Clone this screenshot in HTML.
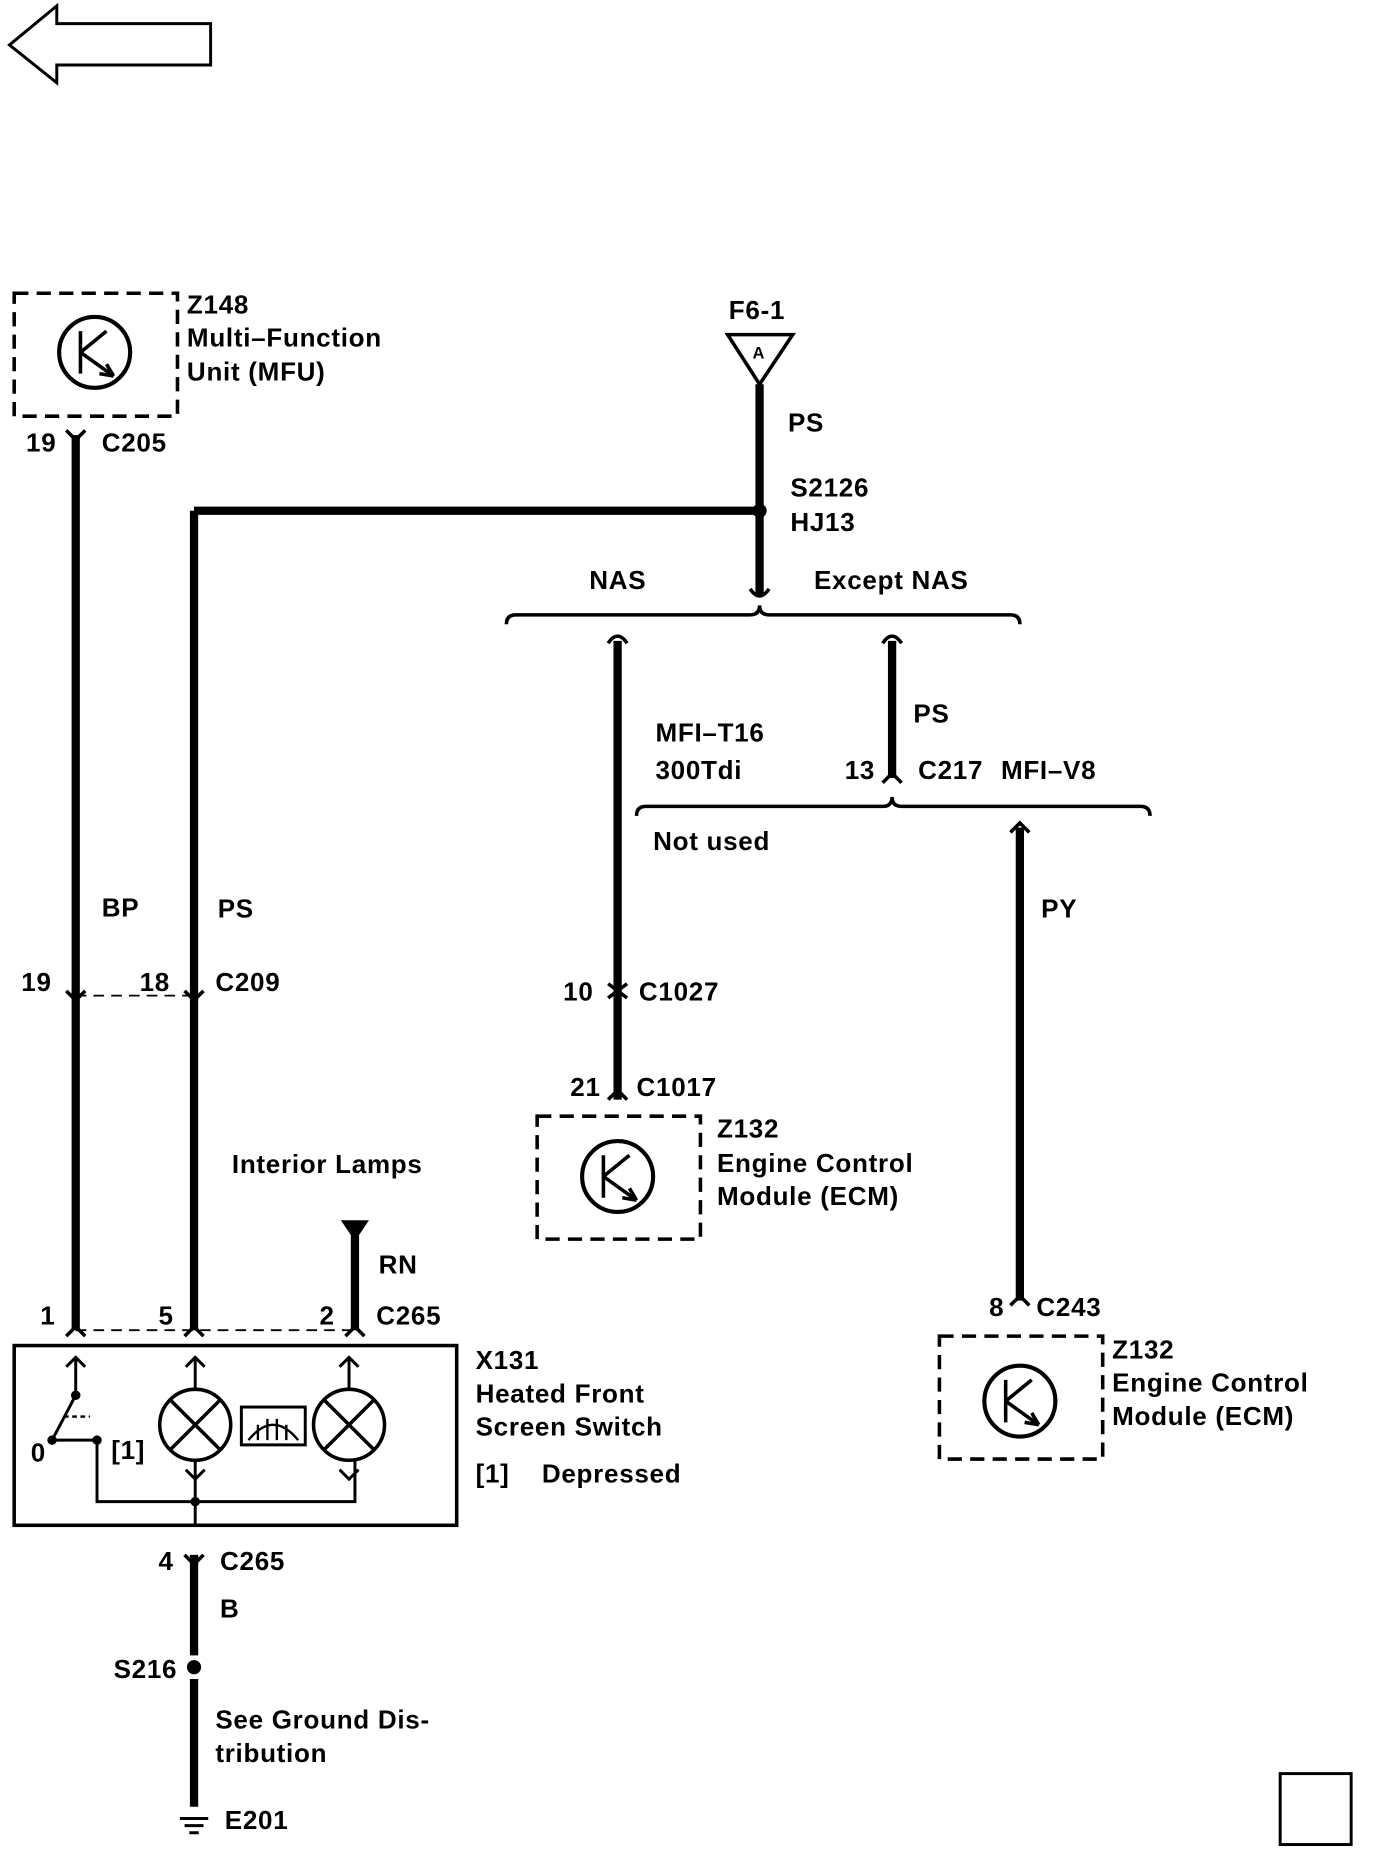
<!DOCTYPE html>
<html><head><meta charset="utf-8"><style>
html,body{margin:0;padding:0;background:#fff;}
svg{display:block}
text{font-family:"Liberation Sans",sans-serif;font-weight:bold;font-size:22px;letter-spacing:0.6px;fill:#000}
</style></head><body>
<svg width="1376" height="1854" viewBox="0 0 1163 1568" preserveAspectRatio="none" xmlns="http://www.w3.org/2000/svg">
<g fill="none" stroke="#000">
<polygon points="8,38 48,5 48,20 178,20 178,55 48,55 48,70" stroke-width="2.5"/>
<rect x="12" y="248" width="138" height="104" stroke-width="3" stroke-dasharray="12,7"/>
<circle cx="80" cy="298" r="30" stroke-width="3.5"/>
<path d="M68 280 V316 M68 298 L96 318 M68 298 L90 280" stroke-width="3"/>
<path d="M96 318 L84 316 M96 318 L90 308" stroke-width="3"/>
<path d="M64 368 V1125" stroke-width="7"/>
<path d="M164 432 V1125 M164 432 H642" stroke-width="7"/>
<path d="M642 325 V503" stroke-width="7"/>
<path d="M522 542 V930" stroke-width="7"/>
<path d="M754 542 V658" stroke-width="7"/>
<path d="M862 700 V1100" stroke-width="7"/>
<path d="M300 1045 V1125" stroke-width="7"/>
<path d="M164 1315 V1400 M164 1420 V1528" stroke-width="7"/>
<path d="M56 364 L64 372 L72 364 M634 498 Q642 510 650 498 M514 544 Q522 532 530 544 M746 544 Q754 532 762 544 M746 662 L754 654 L762 662 M854 704 L862 696 L870 704 M156 1315 L164 1323 L172 1315 M514 930 L522 922 L530 930 M854 1104 L862 1096 L870 1104" stroke-width="3"/>
<path d="M56 838 L64 846 L72 838 M156 838 L164 846 L172 838 M514 832 L530 844 M514 844 L530 832" stroke-width="3"/>
<path d="M56 1130 L64 1122 L72 1130 M156 1130 L164 1122 L172 1130 M292 1130 L300 1122 L308 1130" stroke-width="3"/>
<path d="M64 842 H164 M64 1125 H300" stroke-width="1.5" stroke-dasharray="9,6"/>
<polygon points="615,283 670,283 642,325" stroke-width="3"/>
<polygon points="290,1033 310,1033 300,1048" fill="#000" stroke-width="2"/>
<path d="M428 528 Q428 520 436 520 H634 Q642 520 642 512 Q642 520 650 520 H854 Q862 520 862 528" stroke-width="3"/>
<path d="M538 690 Q538 682 546 682 H746 Q754 682 754 674 Q754 682 762 682 H964 Q972 682 972 690" stroke-width="3"/>
<rect x="454" y="944" width="138" height="104" stroke-width="3" stroke-dasharray="12,7"/>
<circle cx="522" cy="995" r="30" stroke-width="3.5"/>
<path d="M510 977 V1013 M510 995 L538 1015 M510 995 L532 977 M538 1015 L526 1013 M538 1015 L532 1005" stroke-width="3"/>
<rect x="794" y="1130" width="138" height="104" stroke-width="3" stroke-dasharray="12,7"/>
<circle cx="862" cy="1185" r="30" stroke-width="3.5"/>
<path d="M850 1167 V1203 M850 1185 L878 1205 M850 1185 L872 1167 M878 1205 L866 1203 M878 1205 L872 1195" stroke-width="3"/>
<rect x="12" y="1138" width="374" height="152" stroke-width="3"/>
<circle cx="165" cy="1205" r="30" stroke-width="3"/>
<path d="M144 1184 L186 1226 M186 1184 L144 1226" stroke-width="3"/>
<circle cx="295" cy="1205" r="30" stroke-width="3"/>
<path d="M274 1184 L316 1226 M316 1184 L274 1226" stroke-width="3"/>
<rect x="204" y="1190" width="54" height="32" stroke-width="2.5"/>
<path d="M210 1218 Q231 1192 252 1218 M218 1205 V1218 M226 1200 V1218 M234 1200 V1218 M242 1205 V1218" stroke-width="2"/>
<path d="M165 1148 V1175 M157 1156 L165 1148 L173 1156 M295 1148 V1175 M287 1156 L295 1148 L303 1156 M64 1148 V1180 M56 1156 L64 1148 L72 1156" stroke-width="2.5"/>
<path d="M64 1180 L44 1218" stroke-width="2.5"/>
<path d="M46 1218 H82 V1270 H300 V1235 M165 1235 V1290 M157 1243 L165 1251 L173 1243 M287 1243 L295 1251 L303 1243" stroke-width="2.5"/>
<path d="M54 1198 H76" stroke-width="2" stroke-dasharray="4,3"/>
<path d="M152 1538 H176 M156 1544 H172 M160 1550 H168" stroke-width="2.5"/>
<rect x="1082" y="1500" width="60" height="60" stroke-width="2.5"/>
</g>
<g fill="#000">
<circle cx="642" cy="432" r="6"/>
<circle cx="164" cy="1410" r="6"/>
<circle cx="165" cy="1270" r="4"/>
<circle cx="82" cy="1218" r="4"/>
<circle cx="64" cy="1180" r="4"/>
<circle cx="44" cy="1218" r="4"/>
</g>
<text x="158" y="265">Z148</text>
<text x="158" y="293">Multi–Function</text>
<text x="158" y="322">Unit (MFU)</text>
<text x="22" y="382">19</text><text x="86" y="382">C205</text>
<text x="616" y="270">F6-1</text>
<text x="636" y="303" style="font-size:14px">A</text>
<text x="666" y="365">PS</text>
<text x="668" y="420">S2126</text><text x="668" y="449">HJ13</text>
<text x="498" y="498">NAS</text><text x="688" y="498">Except NAS</text>
<text x="772" y="611">PS</text>
<text x="554" y="627">MFI–T16</text><text x="554" y="659">300Tdi</text>
<text x="714" y="659">13</text><text x="776" y="659">C217</text><text x="846" y="659">MFI–V8</text>
<text x="552" y="719">Not used</text>
<text x="86" y="775">BP</text><text x="184" y="776">PS</text><text x="880" y="776">PY</text>
<text x="18" y="838">19</text><text x="118" y="838">18</text><text x="182" y="838">C209</text>
<text x="476" y="846">10</text><text x="540" y="846">C1027</text>
<text x="482" y="927">21</text><text x="538" y="927">C1017</text>
<text x="606" y="962">Z132</text><text x="606" y="991">Engine Control</text><text x="606" y="1019">Module (ECM)</text>
<text x="196" y="992">Interior Lamps</text>
<text x="320" y="1077">RN</text>
<text x="836" y="1113">8</text><text x="876" y="1113">C243</text>
<text x="34" y="1120">1</text><text x="134" y="1120">5</text><text x="270" y="1120">2</text><text x="318" y="1120">C265</text>
<text x="940" y="1149">Z132</text><text x="940" y="1177">Engine Control</text><text x="940" y="1205">Module (ECM)</text>
<text x="402" y="1158">X131</text><text x="402" y="1186">Heated Front</text><text x="402" y="1214">Screen Switch</text>
<text x="402" y="1254">[1]</text><text x="458" y="1254">Depressed</text>
<text x="26" y="1236">0</text><text x="94" y="1234">[1]</text>
<text x="134" y="1328">4</text><text x="186" y="1328">C265</text>
<text x="186" y="1368">B</text>
<text x="96" y="1419">S216</text>
<text x="182" y="1462">See Ground Dis-</text><text x="182" y="1490">tribution</text>
<text x="190" y="1547">E201</text>
</svg>
</body></html>
